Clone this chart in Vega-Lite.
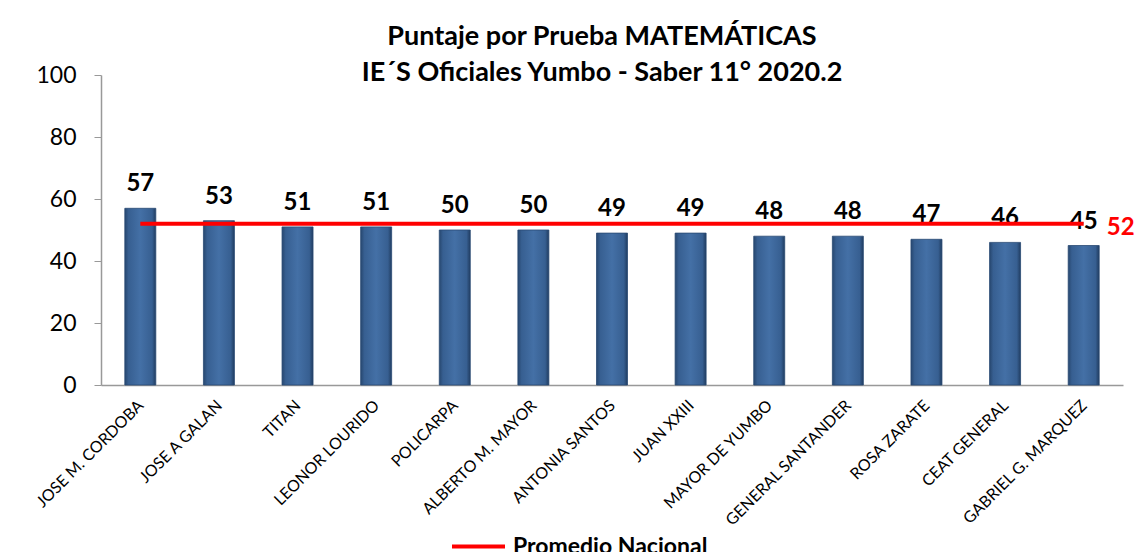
{
  "$schema": "https://vega.github.io/schema/vega-lite/v6.json",
  "width": 1022,
  "height": 310,
  "autosize": {"type": "none"},
  "padding": {"left": 101, "top": 75, "right": 15, "bottom": 167},
  "background": "white",
  "title": {
    "text": ["Puntaje por Prueba MATEMÁTICAS", "IE´S Oficiales Yumbo - Saber 11° 2020.2"],
    "font": "Lato",
    "fontSize": 27,
    "fontWeight": "bold",
    "color": "black",
    "anchor": "middle",
    "lineHeight": 36,
    "offset": -23,
    "dx": -10
  },
  "datasets": {
    "scores": [
      {"colegio": "JOSE M. CORDOBA", "puntaje": 57},
      {"colegio": "JOSE A GALAN", "puntaje": 53},
      {"colegio": "TITAN", "puntaje": 51},
      {"colegio": "LEONOR LOURIDO", "puntaje": 51},
      {"colegio": "POLICARPA", "puntaje": 50},
      {"colegio": "ALBERTO M. MAYOR", "puntaje": 50},
      {"colegio": "ANTONIA SANTOS", "puntaje": 49},
      {"colegio": "JUAN XXIII", "puntaje": 49},
      {"colegio": "MAYOR DE YUMBO", "puntaje": 48},
      {"colegio": "GENERAL SANTANDER", "puntaje": 48},
      {"colegio": "ROSA ZARATE", "puntaje": 47},
      {"colegio": "CEAT GENERAL", "puntaje": 46},
      {"colegio": "GABRIEL G. MARQUEZ", "puntaje": 45}
    ],
    "promedio": [
      {"desde": "JOSE M. CORDOBA", "hasta": "GABRIEL G. MARQUEZ", "valor": 52, "serie": "Promedio Nacional"}
    ]
  },
  "layer": [
    {
      "data": {"name": "scores"},
      "mark": {
        "type": "bar",
        "width": 31,
        "fill": {
          "gradient": "linear",
          "x1": 0, "x2": 1, "y1": 0, "y2": 0,
          "stops": [
            {"offset": 0, "color": "#27476f"},
            {"offset": 0.12, "color": "#375f91"},
            {"offset": 0.5, "color": "#4470a6"},
            {"offset": 0.88, "color": "#375f91"},
            {"offset": 1, "color": "#203c60"}
          ]
        },
        "stroke": "#2a4a74",
        "strokeWidth": 0.8
      },
      "encoding": {
        "x": {
          "field": "colegio",
          "type": "nominal",
          "sort": null,
          "scale": {"paddingInner": 0.6, "paddingOuter": 0.3},
          "axis": {
            "title": null,
            "labelAngle": -45,
            "labelFont": "Lato",
            "labelFontSize": 16,
            "labelColor": "black",
            "labelPadding": 12,
            "labelOffset": -5,
            "labelLimit": 300,
            "ticks": false,
            "domainColor": "#999999",
            "domainWidth": 1.5
          }
        },
        "y": {
          "field": "puntaje",
          "type": "quantitative",
          "scale": {"domain": [0, 100]},
          "axis": {
            "title": null,
            "values": [0, 20, 40, 60, 80, 100],
            "grid": false,
            "labelFont": "Lato",
            "labelFontSize": 23,
            "labelColor": "black",
            "labelPadding": 18,
            "tickSize": 7,
            "tickColor": "#999999",
            "domainColor": "#999999",
            "domainWidth": 1.5
          }
        }
      }
    },
    {
      "data": {"name": "scores"},
      "mark": {"type": "text", "font": "Lato", "fontSize": 24, "fontWeight": "bold", "color": "black", "baseline": "bottom", "dy": -12},
      "encoding": {
        "x": {"field": "colegio", "type": "nominal", "sort": null},
        "y": {"field": "puntaje", "type": "quantitative"},
        "text": {"field": "puntaje", "type": "quantitative"}
      }
    },
    {
      "data": {"name": "promedio"},
      "mark": {"type": "rule", "strokeWidth": 4},
      "encoding": {
        "x": {"field": "desde", "type": "nominal", "sort": null},
        "x2": {"field": "hasta"},
        "y": {"field": "valor", "type": "quantitative"},
        "color": {
          "field": "serie",
          "type": "nominal",
          "scale": {"range": ["#ff0000"]},
          "legend": {
            "title": null,
            "orient": "none",
            "legendX": 349,
            "legendY": 443,
            "symbolType": "stroke",
            "symbolStrokeWidth": 4,
            "symbolSize": 2809,
            "labelFont": "Lato",
            "labelFontSize": 23,
            "labelFontWeight": "bold",
            "labelColor": "black",
            "labelOffset": 6,
            "labelLimit": 400
          }
        }
      }
    },
    {
      "data": {"name": "promedio"},
      "mark": {"type": "text", "font": "Lato", "fontSize": 24, "fontWeight": "bold", "color": "#ff0000", "align": "center", "dx": 37, "dy": 4},
      "encoding": {
        "x": {"field": "hasta", "type": "nominal", "sort": null},
        "y": {"field": "valor", "type": "quantitative"},
        "text": {"field": "valor", "type": "quantitative"}
      }
    }
  ],
  "config": {
    "view": {"stroke": null}
  }
}
